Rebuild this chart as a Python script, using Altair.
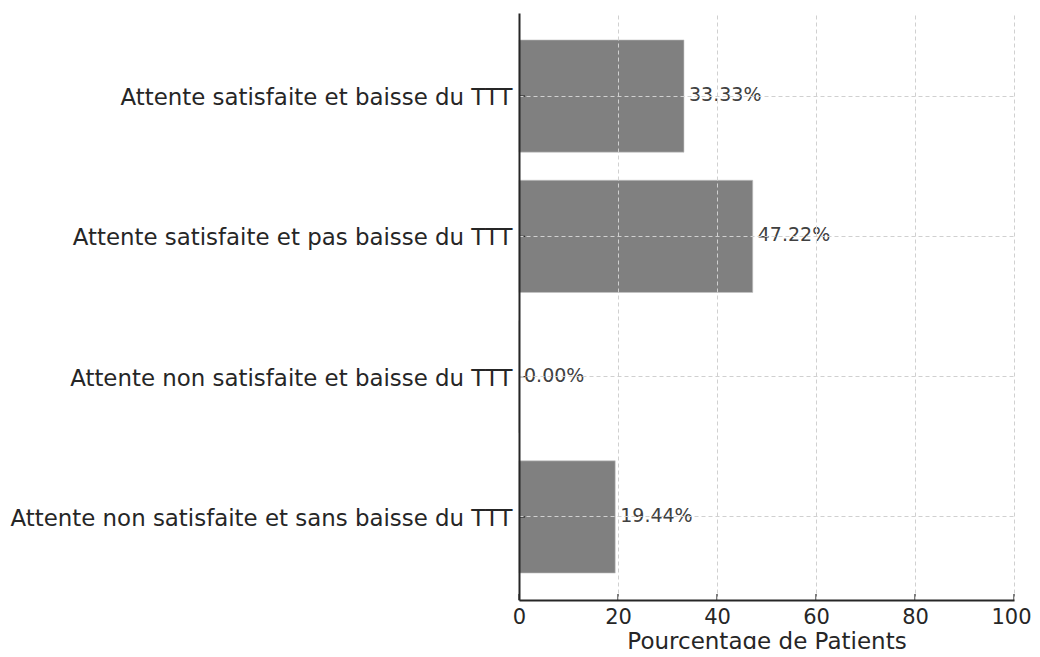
import altair as alt
import pandas as pd

categories = [
    "Attente satisfaite et baisse du TTT",
    "Attente satisfaite et pas baisse du TTT",
    "Attente non satisfaite et baisse du TTT",
    "Attente non satisfaite et sans baisse du TTT",
]
values = [33.33, 47.22, 0.00, 19.44]
x_ticks = [0, 20, 40, 60, 80, 100]

df = pd.DataFrame({"cat": categories, "val": values})
df["label"] = df["val"].map(lambda v: f"{v:.2f}%")
tick_df = pd.DataFrame({"t": x_ticks})

FONT = "DejaVu Sans"
INK = "#262626"
xs = alt.Scale(domain=[0, 100], nice=False, zero=True)
ys = alt.Scale(domain=categories, paddingInner=0.2, paddingOuter=0.192)

# bars + axes with dashed grid drawn above the marks
bars = alt.Chart(df).mark_bar(color="#808080", stroke="#c4c4c4", strokeWidth=0.6).encode(
    x=alt.X("val:Q", scale=xs, axis=alt.Axis(
        values=x_ticks, title="Pourcentage de Patients", ticks=False, zindex=1,
        grid=True, gridColor="#d0d0d0", gridDash=[4, 3], gridWidth=1,
        domainColor=INK, domainWidth=2, labelFont=FONT, labelFontSize=21, labelColor=INK,
        labelOffset={"condition": {"test": "datum.value == 100", "value": -3}, "value": 0},
        labelPadding=6, labelFlush=False, labelOverlap=False, titleFont=FONT, titleFontSize=23,
        titleFontWeight="normal", titleColor=INK, titlePadding=3)),
    y=alt.Y("cat:N", scale=ys, sort=categories, axis=alt.Axis(
        title=None, ticks=False, zindex=1,
        grid=True, gridColor="#d0d0d0", gridDash=[4, 3], gridWidth=1,
        domainColor=INK, domainWidth=2, labelOffset=2,
        labelFont=FONT, labelFontSize=22.9, labelColor=INK, labelPadding=7, labelLimit=600)),
)

# inward-pointing ticks
x_inward = alt.Chart(tick_df).mark_rule(color=INK, strokeWidth=1.2).encode(
    x=alt.X("t:Q", scale=xs),
    y=alt.value(581),
    y2=alt.value(587),
)
y_inward = alt.Chart(df).mark_rule(color=INK, strokeWidth=1.2).encode(
    y=alt.Y("cat:N", scale=ys, sort=categories),
    x=alt.value(0),
    x2=alt.value(6),
)

labels = alt.Chart(df).mark_text(
    align="left", baseline="middle", dx=5, dy=-1, font=FONT, fontSize=19, color="#404040"
).encode(
    x=alt.X("val:Q", scale=xs),
    y=alt.Y("cat:N", scale=ys, sort=categories),
    text="label:N",
)

chart = (
    alt.layer(bars, x_inward, y_inward, labels)
    .properties(
        width=495, height=587, background="white",
        autosize=alt.AutoSizeParams(type="none"),
        padding={"left": 511, "top": 5, "right": 18, "bottom": 49},
    )
    .configure_view(stroke=None)
)

chart.save("out.html", embed_options={"renderer": "svg", "actions": False})
